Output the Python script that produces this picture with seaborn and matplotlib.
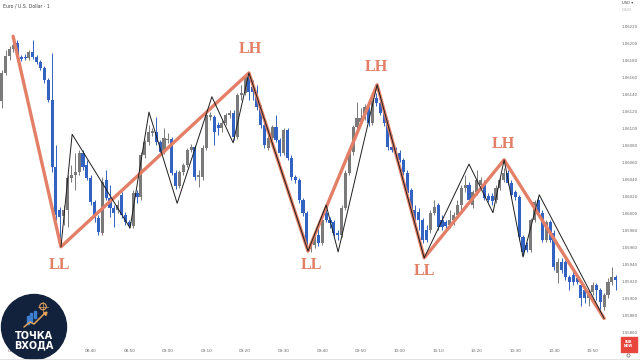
import numpy as np
import pandas as pd
import matplotlib
matplotlib.use("Agg")
import matplotlib.pyplot as plt
import seaborn as sns
from matplotlib.patches import Circle, Rectangle

# ---------------- data (prices in points, 1 point = 0.00001) ----------------
open_pts = [
    106132, 106165, 106185, 106193, 106200, 106184, 106184, 106182, 106190, 106184,
    106178, 106171, 106157, 106133, 106055, 106004, 105997, 106004, 106042, 106045,
    106049, 106071, 106057, 106042, 106014, 105995, 105977, 106039, 106018, 106007,
    106004, 106022, 105998, 105990, 105985, 106024, 106019, 106069, 106084, 106095,
    106096, 106084, 106072, 106086, 106087, 106048, 106032, 106049, 106057, 106075,
    106078, 106043, 106043, 106077, 106113, 106113, 106104, 106100, 106106, 106116,
    106118, 106090, 106139, 106141, 106160, 106148, 106143, 106125, 106104, 106077,
    106089, 106102, 106086, 106071, 106098, 106065, 106043, 106039, 106016, 106001,
    105958, 105963, 105975, 105965, 106001, 105992, 105990, 105977, 105975, 106007,
    106048, 106072, 106102, 106107, 106112, 106125, 106106, 106136, 106130, 106118,
    106106, 106078, 106075, 106071, 106063, 106048, 106028, 106004, 106002, 105992,
    105981, 105981, 106001, 106010, 105992, 105990, 105987, 105992, 105998, 106010,
    106030, 106034, 106010, 106025, 106034, 106036, 106021, 106021, 106016, 106030,
    106039, 106048, 106036, 106025, 106019, 105973, 105963, 105957, 105992, 106016,
    106001, 105969, 105990, 105977, 105930, 105943, 105943, 105926, 105928, 105924,
    105916, 105910, 105901, 105908, 105916, 105910, 105890, 105904, 105920, 105926,
]
close_pts = [
    106165, 106185, 106193, 106198, 106184, 106181, 106182, 106190, 106184, 106178,
    106171, 106157, 106133, 106055, 105998, 105996, 106004, 106042, 106045, 106049,
    106071, 106055, 106042, 106014, 105995, 105978, 106037, 106018, 106007, 106001,
    106010, 105998, 105990, 105985, 106024, 106019, 106069, 106084, 106096, 106097,
    106084, 106072, 106089, 106087, 106048, 106032, 106049, 106057, 106075, 106078,
    106043, 106045, 106077, 106116, 106116, 106096, 106100, 106106, 106116, 106117,
    106090, 106139, 106141, 106160, 106143, 106143, 106125, 106104, 106080, 106089,
    106102, 106086, 106071, 106098, 106065, 106043, 106039, 106016, 106001, 105961,
    105963, 105975, 105965, 105992, 105992, 105989, 105977, 105975, 106007, 106048,
    106072, 106102, 106112, 106112, 106125, 106106, 106136, 106130, 106118, 106106,
    106078, 106075, 106071, 106063, 106049, 106024, 106002, 105995, 105992, 105969,
    105969, 106001, 106008, 105984, 105984, 105985, 105992, 105998, 106010, 106030,
    106034, 106016, 106025, 106039, 106039, 106018, 106016, 106015, 106030, 106039,
    106048, 106036, 106022, 106019, 105973, 105955, 105957, 105992, 106014, 106001,
    105969, 105990, 105969, 105937, 105943, 105934, 105926, 105920, 105920, 105920,
    105901, 105901, 105908, 105916, 105910, 105896, 105904, 105920, 105926, 105922,
]
high_pts = [
    106168, 106192, 106197, 106208, 106204, 106186, 106187, 106192, 106204, 106186,
    106180, 106173, 106159, 106188, 106080, 106008, 106010, 106045, 106057, 106071,
    106075, 106075, 106063, 106045, 106016, 105998, 106043, 106051, 106034, 106010,
    106016, 106025, 106002, 105992, 106028, 106028, 106072, 106086, 106104, 106100,
    106113, 106086, 106100, 106095, 106090, 106051, 106051, 106059, 106077, 106082,
    106080, 106051, 106080, 106119, 106119, 106116, 106107, 106110, 106118, 106121,
    106121, 106141, 106151, 106164, 106165, 106157, 106151, 106127, 106107, 106092,
    106104, 106116, 106089, 106100, 106100, 106069, 106045, 106042, 106018, 106003,
    105969, 105978, 105983, 105995, 106010, 105996, 105992, 105981, 106010, 106051,
    106075, 106104, 106131, 106124, 106129, 106133, 106138, 106141, 106133, 106121,
    106110, 106092, 106078, 106075, 106065, 106051, 106030, 106010, 106007, 105995,
    105987, 106004, 106016, 106012, 105998, 105992, 106004, 106002, 106016, 106034,
    106045, 106037, 106028, 106051, 106043, 106039, 106024, 106024, 106034, 106043,
    106053, 106051, 106039, 106028, 106022, 105975, 105967, 105995, 106016, 106019,
    106004, 105992, 105992, 105981, 105948, 105948, 105946, 105928, 105934, 105928,
    105919, 105913, 105910, 105920, 105919, 105913, 105907, 105924, 105937, 105928,
]
low_pts = [
    106124, 106163, 106180, 106190, 106181, 106179, 106180, 106180, 106181, 106175,
    106168, 106153, 106131, 106049, 105992, 105961, 105987, 105984, 106037, 106028,
    106045, 106051, 106039, 106010, 105990, 105975, 105975, 106016, 105996, 105984,
    106001, 105995, 105987, 105983, 105983, 106012, 106016, 106065, 106080, 106091,
    106080, 106069, 106070, 106083, 106045, 106029, 106030, 106045, 106055, 106072,
    106039, 106031, 106039, 106075, 106110, 106080, 106092, 106096, 106104, 106112,
    106086, 106087, 106133, 106139, 106133, 106133, 106121, 106100, 106077, 106075,
    106086, 106084, 106068, 106069, 106063, 106039, 106036, 106012, 105997, 105956,
    105955, 105960, 105962, 105963, 105990, 105983, 105974, 105969, 105973, 106004,
    106045, 106069, 106098, 106105, 106110, 106103, 106104, 106126, 106116, 106103,
    106075, 106072, 106063, 106060, 106045, 106021, 105998, 105992, 105981, 105965,
    105967, 105977, 105998, 105981, 105981, 105978, 105983, 105987, 105995, 106004,
    106025, 106012, 106007, 106022, 106030, 106016, 106014, 106010, 106012, 106028,
    106037, 106034, 106018, 106016, 105969, 105951, 105955, 105955, 105990, 105998,
    105967, 105967, 105967, 105934, 105919, 105930, 105922, 105910, 105916, 105917,
    105892, 105895, 105892, 105904, 105899, 105887, 105887, 105901, 105916, 105910,
]
first_minute = 17          # first candle at 08:17, one candle per minute
tick_labels = ["08:20", "08:30", "08:40", "08:50", "09:00", "09:10", "09:20",
               "09:30", "09:40", "09:50", "10:00", "10:10", "10:20", "10:30",
               "10:40", "10:50"]
price_ticks = [1.05860, 1.05880, 1.05900, 1.05920, 1.05940, 1.05960, 1.05980,
               1.06000, 1.06020, 1.06040, 1.06060, 1.06080, 1.06100, 1.06120,
               1.06140, 1.06160, 1.06180, 1.06200, 1.06220]

# hand-drawn swing lines (candle position, price in points)
swing_pos = [2.9, 15.3, 64.0, 79.3, 97.2, 109.4, 130.1, 156.0]
swing_pts = [106208, 105961, 106165, 105956, 106151, 105948, 106063, 105877]
swing_labels = ["", "LL", "LH", "LL", "LH", "LL", "LH", ""]
wave_pos = [15.3, 18.2, 33.2, 38.1, 45.4, 54.4, 59.9, 64.0, 79.3, 84.0, 87.1,
            97.2, 109.4, 121.0, 127.2, 130.1, 135.0, 139.2, 156.0]
wave_pts = [105961, 106093, 105983, 106119, 106012, 106137, 106083, 106165,
            105956, 106010, 105955, 106151, 105948, 106058, 106001, 106063,
            105949, 106022, 105877]

# ---------------- figure ----------------
sns.set_theme(style="white")
plt.rcParams['font.family'] = ['DejaVu Sans']

GREY = "#7a7a7a"
BLUE = "#3262c2"
ORANGE = "#e27f66"
TXT = "#666666"

df = pd.DataFrame({
    "pos": np.arange(len(open_pts)),
    "open": np.array(open_pts) / 1e5,
    "high": np.array(high_pts) / 1e5,
    "low": np.array(low_pts) / 1e5,
    "close": np.array(close_pts) / 1e5,
})
up = df["close"] >= df["open"]
cols = np.where(up, GREY, BLUE)

fig = plt.figure(figsize=(6.4, 3.6), dpi=100)
fig.patch.set_facecolor("white")
ax = fig.add_axes([0.0, 15 / 360, 618 / 640, 345 / 360])
ax.set_facecolor("white")

ax.vlines(df["pos"], df["low"], df["high"], colors=cols, linewidth=0.7, zorder=2)
body_lo = np.minimum(df["open"], df["close"])
body_h = np.maximum((df["close"] - df["open"]).abs(), 0.000015)
ax.bar(df["pos"], body_h, bottom=body_lo, width=0.8, color=cols, linewidth=0, zorder=3)

sw = pd.DataFrame({"pos": swing_pos, "price": np.array(swing_pts) / 1e5})
wv = pd.DataFrame({"pos": wave_pos, "price": np.array(wave_pts) / 1e5})
sns.lineplot(data=sw, x="pos", y="price", sort=False, estimator=None,
             color=ORANGE, linewidth=2.4, ax=ax, zorder=4)
sns.lineplot(data=wv, x="pos", y="price", sort=False, estimator=None,
             color="#1e1e1e", linewidth=0.7, ax=ax, zorder=5)

label_offsets = [None, (-1, -18), (1, 24), (3, -14), (-1, 18), (0, -13), (-1, 16), None]
for p, v, lab, off in zip(sw["pos"], sw["price"], swing_labels, label_offsets):
    if lab:
        ax.annotate(lab, (p, v), xytext=off, textcoords="offset pixels",
                    ha="center", va="center", fontsize=11.5, color=ORANGE,
                    family=["Liberation Serif", "DejaVu Serif"], fontweight="bold")

ax.set_xlim(-0.49, 159.6)
ax.set_ylim(1.058458, 1.062505)
ax.set_xlabel("")
ax.set_ylabel("")
tick_pos = [int(t[:2]) * 60 + int(t[3:]) - 8 * 60 - first_minute for t in tick_labels]
ax.set_xticks(tick_pos)
ax.set_xticklabels(tick_labels)
ax.set_yticks(price_ticks)
ax.set_yticklabels([f"{v:.5f}" for v in price_ticks])
ax.yaxis.tick_right()
ax.tick_params(axis="x", length=0, pad=3.0, labelsize=3.0, labelcolor=TXT)
ax.tick_params(axis="y", length=0, pad=2.5, labelsize=2.8, labelcolor=TXT)
for s in ax.spines.values():
    s.set_visible(False)
ax.grid(False)

# ---------------- overlay decorations ----------------
ov = fig.add_axes([0, 0, 1, 1], zorder=10)
ov.set_xlim(0, 640)
ov.set_ylim(360, 0)
ov.axis("off")

ov.text(3, 5.5, "Euro / U.S. Dollar · 1", fontsize=3.3, color="#444444", va="center", ha="left")
ov.text(622, 3.5, "USD ▾", fontsize=2.7, color="#444444", va="center", ha="left")
ov.text(622, 10, "1.06208", fontsize=1.8, color="#aaaaaa", va="center", ha="left")

# channel logo
ov.add_patch(Circle((34, 327), 32.5, color="#13223c", zorder=1))
for bx, by, bh in [(26.5, 316, 8), (30, 313, 9), (33.5, 311, 7)]:
    ov.add_patch(Rectangle((bx, by), 2.2, bh, color="#3d7fd1", zorder=2))
ov.plot([24, 30, 34, 45], [327, 322, 324, 313], color="#e3a35a", lw=1.1, zorder=3)
ov.plot([45], [313], marker=(3, 0, -45), color="#e3a35a", ms=3, zorder=3)
ov.add_patch(Circle((43, 306.5), 3.3, fill=False, ec="#e3a35a", lw=0.8, zorder=3))
ov.plot([43, 43], [301.5, 311.5], color="#e3a35a", lw=0.5, zorder=3)
ov.plot([38, 48], [306.5, 306.5], color="#e3a35a", lw=0.5, zorder=3)
ov.text(34, 336, "ТОЧКА", fontsize=7, color="white", fontweight="bold",
        ha="center", va="center", zorder=4)
ov.text(34, 345.5, "ВХОДА", fontsize=7, color="white", fontweight="bold",
        ha="center", va="center", zorder=4)

# subscribe badge
ov.add_patch(Rectangle((621, 336.5), 15.5, 15.5, color="#e8453c", zorder=1))
ov.text(628.75, 344.2, "SUB\nNOW", fontsize=2.4, color="white", ha="center",
        va="center", linespacing=1.1, fontweight="bold", zorder=2)
ov.add_patch(Circle((628.5, 355.5), 1.6, fill=False, ec="#666666", lw=0.5))
ov.plot([0, 640], [358.5, 358.5], color="#dddddd", lw=0.6)

fig.savefig("out.png", dpi=100, facecolor="white")
